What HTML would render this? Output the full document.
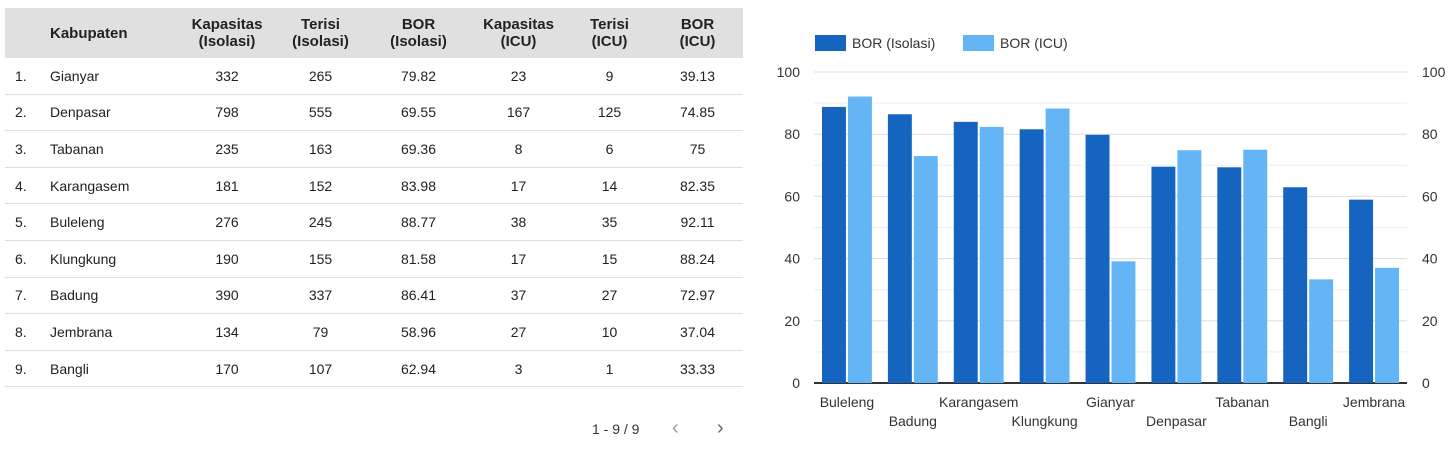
<!DOCTYPE html>
<html><head><meta charset="utf-8"><style>
body{margin:0;width:1456px;height:454px;background:#fff;font-family:"Liberation Sans",sans-serif;color:#222;position:relative;overflow:hidden}
table{position:absolute;left:5px;top:8px;width:738px;border-collapse:collapse;font-size:14px;table-layout:fixed}
th{background:#e0e0e0;height:50px;font-weight:bold;font-size:15px;line-height:17px;text-align:center;padding:0}
td{height:35.6px;border-bottom:1px solid #ddd;text-align:center;padding:0}
td.i{text-align:left;padding-left:10px}
td.n,th.n{text-align:left}
.pg{position:absolute;top:421px;font-size:14px;color:#333}
</style></head><body>
<table>
<colgroup><col style="width:45px"><col style="width:130px"><col style="width:94px"><col style="width:93px"><col style="width:103px"><col style="width:97px"><col style="width:85px"><col style="width:91px"></colgroup>
<thead><tr><th></th><th class="n">Kabupaten</th><th>Kapasitas<br>(Isolasi)</th><th>Terisi<br>(Isolasi)</th><th>BOR<br>(Isolasi)</th><th>Kapasitas<br>(ICU)</th><th>Terisi<br>(ICU)</th><th>BOR<br>(ICU)</th></tr></thead>
<tbody id="tb"></tbody></table>
<div class="pg" style="left:592px">1 - 9 / 9</div>
<div class="pg" style="left:672px;font-size:20px;top:417px;color:#999">&#8249;</div>
<div class="pg" style="left:717px;font-size:20px;top:417px;color:#666">&#8250;</div>
<svg id="ch" width="1456" height="454" style="position:absolute;left:0;top:0"></svg>
<script>
const rows=[["Gianyar",332,265,"79.82",23,9,"39.13"],["Denpasar",798,555,"69.55",167,125,"74.85"],["Tabanan",235,163,"69.36",8,6,"75"],["Karangasem",181,152,"83.98",17,14,"82.35"],["Buleleng",276,245,"88.77",38,35,"92.11"],["Klungkung",190,155,"81.58",17,15,"88.24"],["Badung",390,337,"86.41",37,27,"72.97"],["Jembrana",134,79,"58.96",27,10,"37.04"],["Bangli",170,107,"62.94",3,1,"33.33"]];
const tb=document.getElementById('tb');
rows.forEach((r,i)=>{const tr=document.createElement('tr');


tr.innerHTML='<td class="i">'+(i+1)+'.</td><td class="n">'+r[0]+'</td>'+r.slice(1).map(v=>'<td>'+v+'</td>').join('');tb.appendChild(tr);});

const categories=["Buleleng","Badung","Karangasem","Klungkung","Gianyar","Denpasar","Tabanan","Bangli","Jembrana"];
const borIsolasi=[88.77,86.41,83.98,81.58,79.82,69.55,69.36,62.94,58.96];
const borICU=[92.11,72.97,82.35,88.24,39.13,74.85,75,33.33,37.04];
const ticks=[0,20,40,60,80,100];
const NS='http://www.w3.org/2000/svg',svg=document.getElementById('ch');
const L=814,R=1407,T=72,B=383;
const y=v=>B-(v/100)*(B-T);
const gw=(R-L)/categories.length;
function el(t,a,txt){const e=document.createElementNS(NS,t);for(const k in a)e.setAttribute(k,a[k]);if(txt!=null)e.textContent=txt;svg.appendChild(e);return e;}
for(let v=10;v<100;v+=20){const g=el('line',{x1:L,x2:R,y1:y(v),y2:y(v),stroke:'#eee','stroke-width':1});}
ticks.forEach(v=>{
 const g=el('line',{x1:L,x2:R,y1:y(v),y2:y(v),stroke:v?'#ddd':'#333','stroke-width':v?1:2});
 
 
 const a=el('text',{x:800,y:y(v)+5,'text-anchor':'end','font-size':14,fill:'#333'},v);
 
 
 const b=el('text',{x:1422,y:y(v)+5,'font-size':14,fill:'#333'},v);
 
 
});
categories.forEach((c,i)=>{
 const x0=L+i*gw+8,bw=(gw-16-2)/2;
 const d=el('rect',{x:x0,y:y(borIsolasi[i]),width:bw,height:B-y(borIsolasi[i]),fill:'#1565c0'});
 
 
 const l=el('rect',{x:x0+bw+2,y:y(borICU[i]),width:bw,height:B-y(borICU[i]),fill:'#64b5f6'});
 
 
 const t=el('text',{x:L+i*gw+gw/2,y:i%2?426:407,'text-anchor':'middle','font-size':14,fill:'#333'},c);
 
 
});
[["#1565c0","BOR (Isolasi)",815],["#64b5f6","BOR (ICU)",963]].forEach(([c,n,x])=>{
 const r=el('rect',{x:x,y:35,width:31,height:16,fill:c});
 
 
 const t=el('text',{x:x+37,y:48,'font-size':14,fill:'#333'},n);
 
 
});
</script>
</body></html>
